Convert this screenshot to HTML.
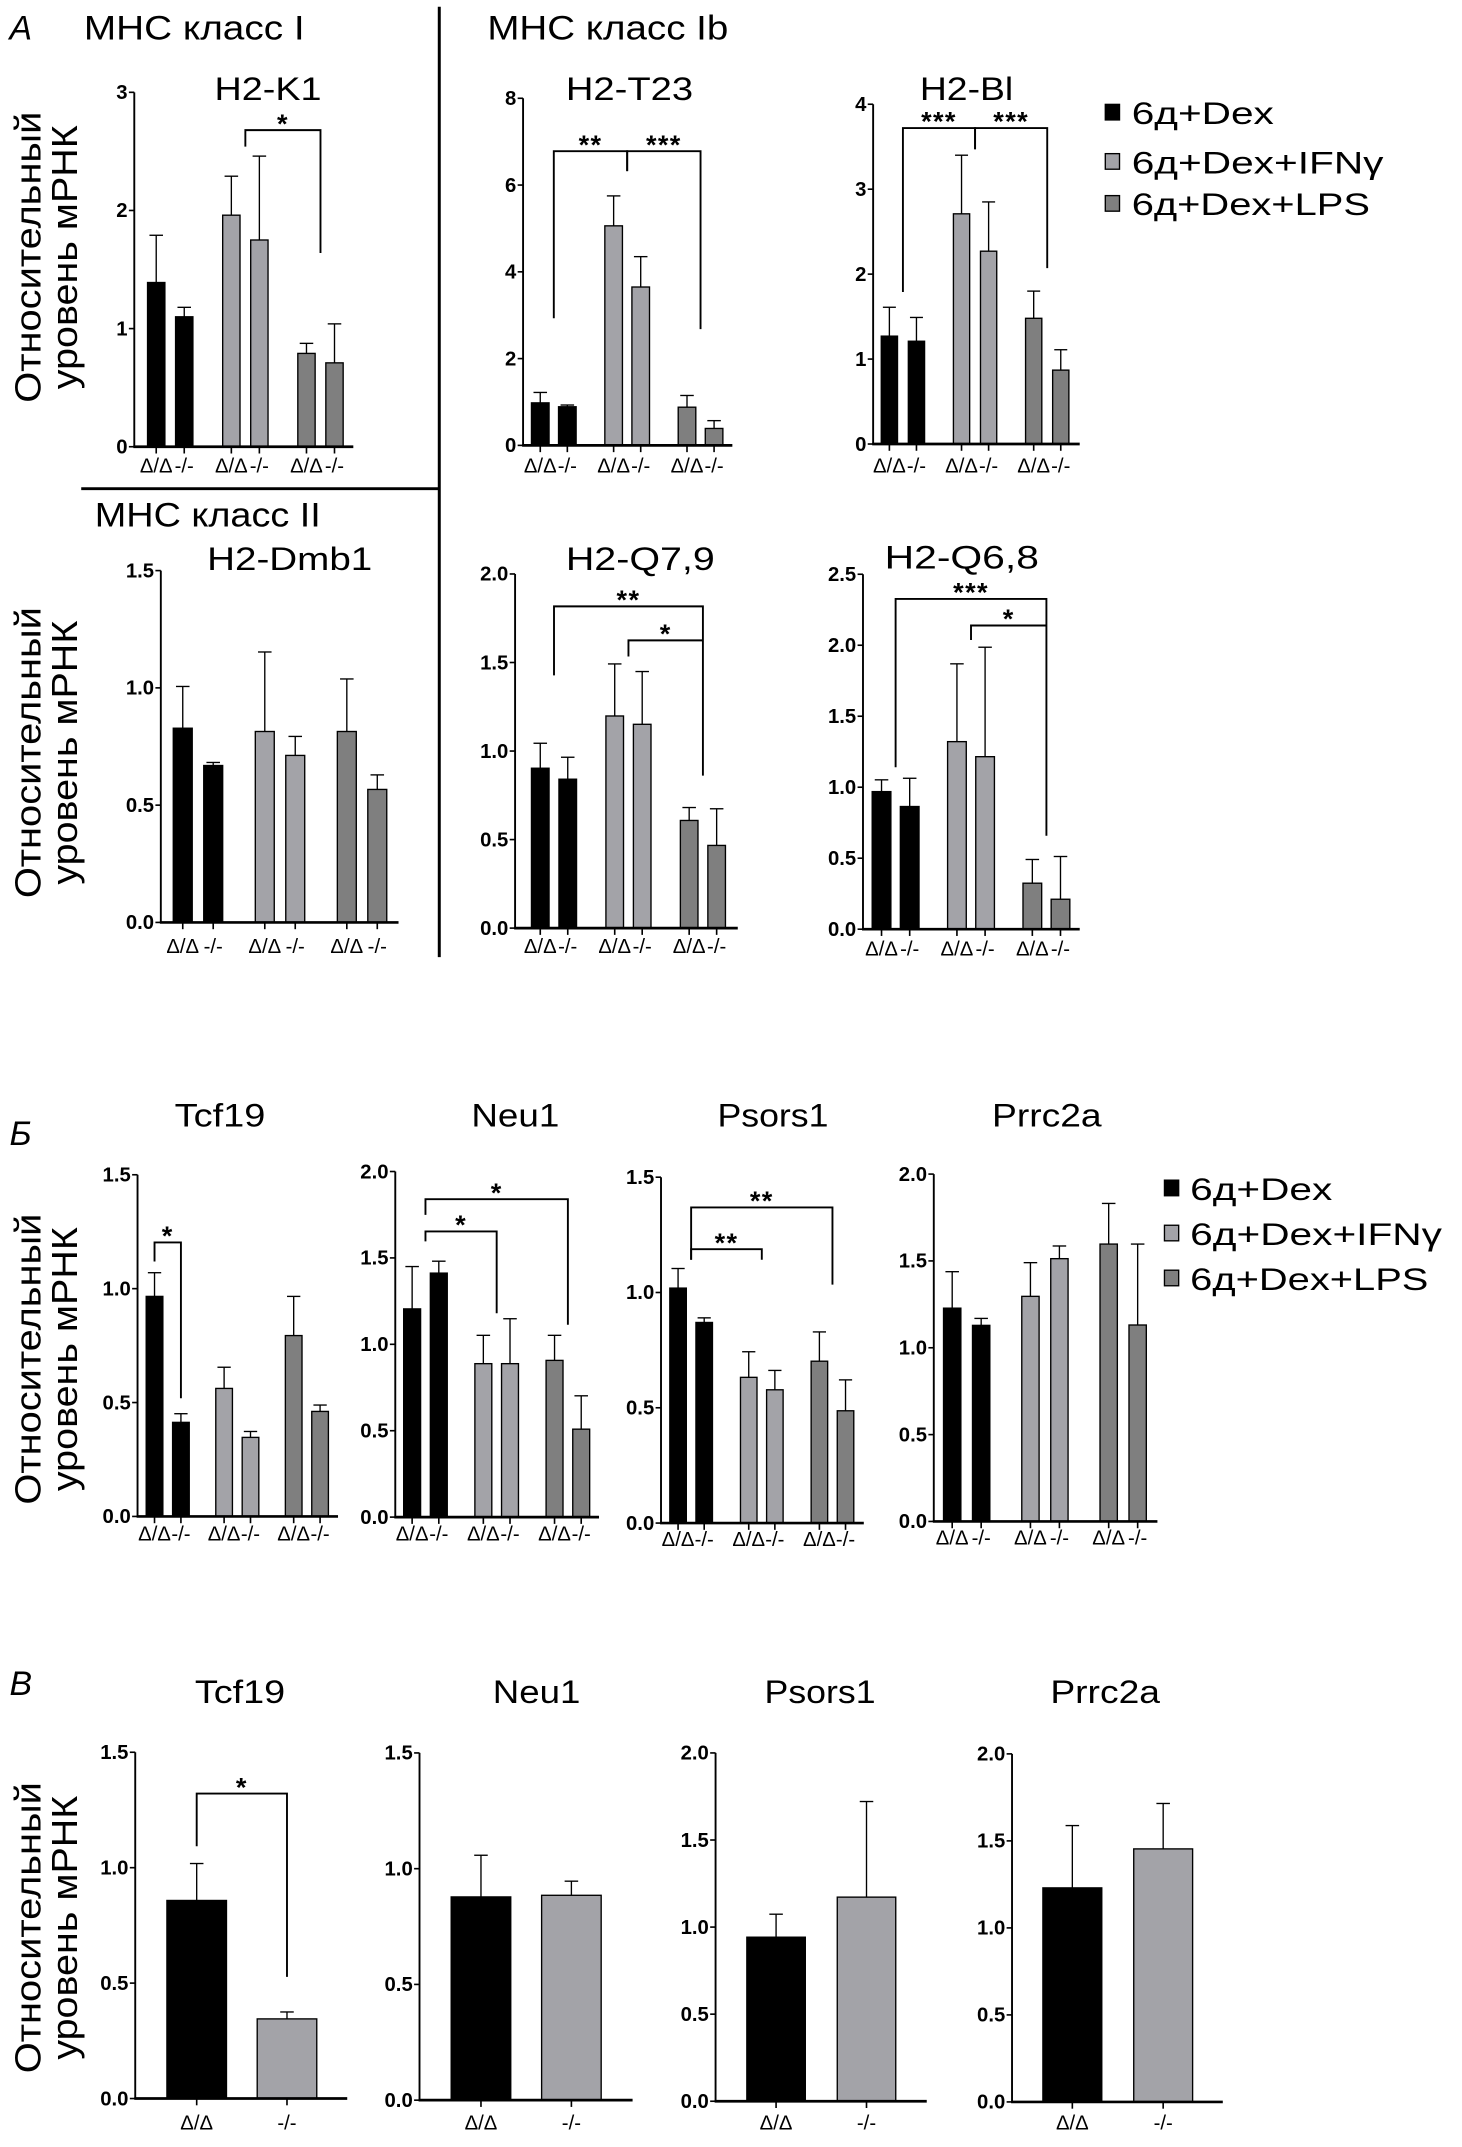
<!DOCTYPE html>
<html lang="ru"><head><meta charset="utf-8"><title>Relative mRNA levels</title>
<style>
html,body{margin:0;padding:0;background:#fff;}
svg{display:block;}
text{font-family:"Liberation Sans","DejaVu Sans",sans-serif;fill:#000;}
.tick{font-weight:bold;font-size:15px;}
.cat{font-size:15px;}
.ttl{font-size:24px;}
.sec{font-size:25px;}
.leg{font-size:23px;}
.star{font-size:20px;font-weight:bold;}
.ylab{font-size:27px;}
</style></head>
<body>
<svg id="fig" xmlns="http://www.w3.org/2000/svg" viewBox="0 0 1080 1586" width="1462" height="2147" preserveAspectRatio="none">
  <rect x="0" y="0" width="1080" height="1586" fill="#fff"/>
  <text x="7" y="29" class="sec" font-style="italic">A</text>
  <text x="62" y="29" class="sec" textLength="163" lengthAdjust="spacingAndGlyphs">MHC класс I</text>
  <text x="360" y="29" class="sec" textLength="178" lengthAdjust="spacingAndGlyphs">MHC класс Ib</text>
  <text x="70" y="389" class="sec" textLength="167" lengthAdjust="spacingAndGlyphs">MHC класс II</text>
  <line x1="324.5" y1="5" x2="324.5" y2="707" stroke="#000" stroke-width="2.2"/>
  <line x1="60" y1="361" x2="324.5" y2="361" stroke="#000" stroke-width="2.2"/>
  <text x="7" y="846" class="sec" font-style="italic">Б</text>
  <text x="7" y="1252" class="sec" font-style="italic">В</text>
  <g id="charts"></g>
</svg>
<script>
const groupCats6 = ["Δ/Δ","-/-","Δ/Δ","-/-","Δ/Δ","-/-"];
const groupCats2 = ["Δ/Δ","-/-"];
const legendLabels = ["6д+Dex","6д+Dex+IFNγ","6д+Dex+LPS"];

const k1Values = [1.39,1.10,1.96,1.75,0.79,0.71];
const k1Errors = [1.79,1.18,2.29,2.46,0.875,1.04];
const k1Ticks = [0,1,2,3];
const k1TickLabels = ["0","1","2","3"];

const t23Values = [0.98,0.89,5.06,3.65,0.88,0.39];
const t23Errors = [1.22,0.93,5.75,4.35,1.15,0.57];
const t23Ticks = [0,2,4,6,8];
const t23TickLabels = ["0","2","4","6","8"];

const blValues = [1.27,1.21,2.71,2.27,1.48,0.87];
const blErrors = [1.61,1.49,3.40,2.85,1.80,1.11];
const blTicks = [0,1,2,3,4];
const blTickLabels = ["0","1","2","3","4"];

const dmbValues = [0.828,0.669,0.814,0.712,0.814,0.567];
const dmbErrors = [1.006,0.682,1.153,0.793,1.038,0.629];
const halfTicks15 = [0,0.5,1.0,1.5];
const halfTickLabels15 = ["0.0","0.5","1.0","1.5"];
const halfTicks20 = [0,0.5,1.0,1.5,2.0];
const halfTickLabels20 = ["0.0","0.5","1.0","1.5","2.0"];
const halfTicks25 = [0,0.5,1.0,1.5,2.0,2.5];
const halfTickLabels25 = ["0.0","0.5","1.0","1.5","2.0","2.5"];

const q79Values = [0.903,0.841,1.198,1.151,0.608,0.467];
const q79Errors = [1.044,0.965,1.492,1.449,0.681,0.674];

const q68Values = [0.969,0.864,1.321,1.215,0.324,0.211];
const q68Errors = [1.052,1.063,1.869,1.986,0.491,0.512];

const tcfBValues = [0.966,0.413,0.562,0.347,0.794,0.461];
const tcfBErrors = [1.07,0.451,0.655,0.373,0.966,0.489];

const neuBValues = [1.205,1.412,0.888,0.888,0.907,0.509];
const neuBErrors = [1.45,1.481,1.052,1.148,1.052,0.702];

const psorsBValues = [1.019,0.870,0.632,0.578,0.702,0.487];
const psorsBErrors = [1.104,0.890,0.743,0.662,0.829,0.621];

const prrcBValues = [1.228,1.129,1.296,1.513,1.597,1.131];
const prrcBErrors = [1.438,1.169,1.49,1.586,1.831,1.597];

const tcfVValues = [0.858,0.345];
const tcfVErrors = [1.018,0.375];
const neuVValues = [0.878,0.885];
const neuVErrors = [1.058,0.946];
const psorsVValues = [0.942,1.172];
const psorsVErrors = [1.074,1.721];
const prrcVValues = [1.23,1.454];
const prrcVErrors = [1.588,1.715];

const k1Brackets = [{a:2.5,b:4.5,top:2.68,legA:2.54,legB:1.64,label:"*"}];
const t23Brackets = [{a:0.5,b:2.5,top:6.78,legA:2.93,legB:6.32,label:"**"},{a:2.5,b:4.5,top:6.78,legA:6.32,legB:2.68,label:"***"}];
const blBrackets = [{a:0.5,b:2.5,top:3.72,legA:1.79,legB:3.47,label:"***"},{a:2.5,b:4.5,top:3.72,legA:3.47,legB:2.07,label:"***"}];
const q79Brackets = [{a:0.5,b:4.5,top:1.817,legA:1.427,legB:0.861,label:"**"},{a:2.5,b:4.5,top:1.625,legA:1.534,legB:1.625,label:"*"}];
const q68Brackets = [{a:0.5,b:4.5,top:2.326,legA:1.141,legB:0.658,label:"***"},{a:2.5,b:4.5,top:2.139,legA:2.037,legB:2.139,label:"*"}];
const tcfBBrackets = [{a:0,b:1,top:1.203,legA:1.119,legB:0.519,label:"*"}];
const neuBBrackets = [{a:0.5,b:4.5,top:1.84,legA:1.749,legB:1.113,label:"*"},{a:0.5,b:2.5,top:1.653,legA:1.596,legB:1.18,label:"*"}];
const psorsBBrackets = [{a:0.5,b:4.5,top:1.369,legA:1.142,legB:1.034,label:"**"},{a:0.5,b:2.5,top:1.188,legA:1.142,legB:1.142,label:"**"}];
const tcfVBrackets = [{a:0,b:1,top:1.321,legA:1.093,legB:0.527,label:"*"}];

const C6 = ["#000000","#000000","#a3a3a8","#a3a3a8","#7f7f7f","#7f7f7f"];
const C2 = ["#000000","#a3a3a8"];
const charts = [
 {id:"h2-k1",title:"H2-K1",values:k1Values,errors:k1Errors,ticks:k1Ticks,tl:k1TickLabels,max:3,ax:99.2,y0:330,yT:68.2,off:9.8,g:55.5,p:20.7,gs:2,w:12.8,end:261,labY:349,tcx:198,tby:74,tw:79,br:k1Brackets,cats:groupCats6,col:C6},
 {id:"h2-t23",title:"H2-T23",values:t23Values,errors:t23Errors,ticks:t23Ticks,tl:t23TickLabels,max:8,ax:386.4,y0:329,yT:72.6,off:6.2,g:54.2,p:20,gs:2,w:13,end:541,labY:349,tcx:465,tby:74,tw:94,br:t23Brackets,cats:groupCats6,col:C6},
 {id:"h2-bl",title:"H2-Bl",values:blValues,errors:blErrors,ticks:blTicks,tl:blTickLabels,max:4,ax:645,y0:328,yT:77,off:6,g:53.3,p:20,gs:2,w:12,end:797.6,labY:349,tcx:714,tby:74,tw:69,br:blBrackets,cats:groupCats6,col:C6},
 {id:"h2-dmb1",title:"H2-Dmb1",values:dmbValues,errors:dmbErrors,ticks:halfTicks15,tl:halfTickLabels15,max:1.5,ax:118.8,y0:681.4,yT:421.5,off:9.2,g:60.6,p:22.5,gs:2,w:14,end:294.4,labY:704,tcx:214,tby:421,tw:122,br:[],cats:groupCats6,col:C6},
 {id:"h2-q79",title:"H2-Q7,9",values:q79Values,errors:q79Errors,ticks:halfTicks20,tl:halfTickLabels20,max:2,ax:380.5,y0:685.6,yT:424,off:12.1,g:55,p:20.3,gs:2,w:13,end:545,labY:704,tcx:473,tby:421,tw:110,br:q79Brackets,cats:groupCats6,col:C6},
 {id:"h2-q68",title:"H2-Q6,8",values:q68Values,errors:q68Errors,ticks:halfTicks25,tl:halfTickLabels25,max:2.5,ax:637.5,y0:686.4,yT:424.2,off:6.8,g:55.7,p:20.8,gs:2,w:13.8,end:797.6,labY:706,tcx:710.5,tby:420,tw:114,br:q68Brackets,cats:groupCats6,col:C6},
 {id:"tcf19-b",title:"Tcf19",values:tcfBValues,errors:tcfBErrors,ticks:halfTicks15,tl:halfTickLabels15,max:1.5,ax:101.6,y0:1120.2,yT:867.8,off:6.4,g:51.4,p:19.5,gs:2,w:12.3,end:249.7,labY:1138,tcx:162.5,tby:832,tw:67,br:tcfBBrackets,cats:groupCats6,col:C6},
 {id:"neu1-b",title:"Neu1",values:neuBValues,errors:neuBErrors,ticks:halfTicks20,tl:halfTickLabels20,max:2,ax:292,y0:1120.7,yT:865.4,off:6.2,g:52.6,p:19.7,gs:2,w:12.5,end:442.5,labY:1138,tcx:380.7,tby:832,tw:65,br:neuBBrackets,cats:groupCats6,col:C6},
 {id:"psors1-b",title:"Psors1",values:psorsBValues,errors:psorsBErrors,ticks:halfTicks15,tl:halfTickLabels15,max:1.5,ax:488.3,y0:1125.1,yT:869.6,off:6.5,g:52.2,p:19.3,gs:2,w:12.2,end:638.1,labY:1142,tcx:571,tby:832,tw:82,br:psorsBBrackets,cats:groupCats6,col:C6},
 {id:"prrc2a-b",title:"Prrc2a",values:prrcBValues,errors:prrcBErrors,ticks:halfTicks20,tl:halfTickLabels20,max:2,ax:689.8,y0:1123.9,yT:867.3,off:7.2,g:57.8,p:21.4,gs:2,w:12.8,end:855,labY:1141,tcx:773.3,tby:832,tw:81,br:[],cats:groupCats6,col:C6},
 {id:"tcf19-v",title:"Tcf19",values:tcfVValues,errors:tcfVErrors,ticks:halfTicks15,tl:halfTickLabels15,max:1.5,ax:99.9,y0:1550.2,yT:1294.4,off:23.4,g:66.7,p:0,gs:1,w:44,end:256.5,labY:1573,tcx:177.3,tby:1258,tw:66.7,br:tcfVBrackets,cats:groupCats2,col:C2},
 {id:"neu1-v",title:"Neu1",values:neuVValues,errors:neuVErrors,ticks:halfTicks15,tl:halfTickLabels15,max:1.5,ax:309.9,y0:1551.4,yT:1294.9,off:23.4,g:66.8,p:0,gs:1,w:44,end:467.3,labY:1573,tcx:396.4,tby:1258,tw:64.7,br:[],cats:groupCats2,col:C2},
 {id:"psors1-v",title:"Psors1",values:psorsVValues,errors:psorsVErrors,ticks:halfTicks20,tl:halfTickLabels20,max:2,ax:528.6,y0:1552.2,yT:1294.9,off:23.1,g:66.8,p:0,gs:1,w:43.2,end:684.6,labY:1573,tcx:605.8,tby:1258,tw:82,br:[],cats:groupCats2,col:C2},
 {id:"prrc2a-v",title:"Prrc2a",values:prrcVValues,errors:prrcVErrors,ticks:halfTicks20,tl:halfTickLabels20,max:2,ax:747.6,y0:1552.7,yT:1295.6,off:22.8,g:67.1,p:0,gs:1,w:43.5,end:903.3,labY:1573,tcx:816.4,tby:1258,tw:81,br:[],cats:groupCats2,col:C2}
];

const NS = "http://www.w3.org/2000/svg";
const root = document.getElementById("charts");
function mk(tag, attrs, parent){
  const e = document.createElementNS(NS, tag);
  for (const k in attrs) e.setAttribute(k, attrs[k]);
  parent.appendChild(e);
  return e;
}

charts.forEach(function(c){
  const g = mk("g", {}, root);
  
  
  const yS = function(v){ return c.y0 - (v / c.max) * (c.y0 - c.yT); };
  const barLeft = function(i){ return c.ax + c.off + Math.floor(i / c.gs) * c.g + (i % c.gs) * c.p; };
  const barCenter = function(i){ return barLeft(i) + c.w / 2; };
  const xPos = function(f){ const lo = Math.floor(f), hi = Math.ceil(f); return (barCenter(lo) + barCenter(hi)) / 2; };

  const t = mk("text", {x:c.tcx, y:c.tby, "text-anchor":"middle", "class":"ttl", textLength:c.tw, lengthAdjust:"spacingAndGlyphs"}, g);
  t.textContent = c.title;
  
  

  const ya = mk("line", {x1:c.ax, y1:yS(c.max), x2:c.ax, y2:c.y0, stroke:"#000", "stroke-width":1.4}, g);
  
  
  c.ticks.forEach(function(v, k){
    const tm = mk("line", {x1:c.ax - 4, y1:yS(v), x2:c.ax, y2:yS(v), stroke:"#000", "stroke-width":1.2}, g);
    
    
    const tl = mk("text", {x:c.ax - 5, y:yS(v) + 5, "text-anchor":"end", "class":"tick"}, g);
    tl.textContent = c.tl[k];
    
    
  });

  c.values.forEach(function(v, i){
    const x = barLeft(i), cx = barCenter(i);
    const eb = mk("line", {x1:cx, y1:yS(v), x2:cx, y2:yS(c.errors[i]), stroke:"#000", "stroke-width":1}, g);
    
    
    const capW = Math.min(5, c.w * 0.4);
    const cap = mk("line", {x1:cx - capW, y1:yS(c.errors[i]), x2:cx + capW, y2:yS(c.errors[i]), stroke:"#000", "stroke-width":1}, g);
    
    
    const b = mk("rect", {x:x, y:yS(v), width:c.w, height:c.y0 - yS(v), fill:c.col[i], stroke:"#000", "stroke-width":1}, g);
    
    
    const xt = mk("line", {x1:cx, y1:c.y0, x2:cx, y2:c.y0 + 5, stroke:"#000", "stroke-width":1.2}, g);
    
    
    const cl = mk("text", {x:cx, y:c.labY, "text-anchor":"middle", "class":"cat"}, g);
    cl.textContent = c.cats[i];
    
    
  });

  const xa = mk("line", {x1:c.ax - 0.7, y1:c.y0, x2:c.end, y2:c.y0, stroke:"#000", "stroke-width":2}, g);
  
  

  c.br.forEach(function(s){
    const xa1 = xPos(s.a), xb1 = xPos(s.b), ty = yS(s.top);
    const pth = mk("path", {d:"M" + xa1 + " " + yS(s.legA) + " L" + xa1 + " " + ty + " L" + xb1 + " " + ty + " L" + xb1 + " " + yS(s.legB), fill:"none", stroke:"#000", "stroke-width":1.4}, g);
    
    
    const st = mk("text", {x:(xa1 + xb1) / 2, y:ty + 2, "text-anchor":"middle", "class":"star", "letter-spacing":"1"}, g);
    st.textContent = s.label;
    
    
  });
});

const yTitles = [190, 556, 1004, 1424];
yTitles.forEach(function(cy){
  const g = mk("g", {}, root);
  
  
  const a = mk("text", {x:0, y:0, "text-anchor":"middle", "class":"ylab", textLength:215, lengthAdjust:"spacingAndGlyphs", transform:"translate(30," + cy + ") rotate(-90)"}, g);
  a.textContent = "Относительный";
  
  
  const b = mk("text", {x:0, y:0, "text-anchor":"middle", "class":"ylab", textLength:195, lengthAdjust:"spacingAndGlyphs", transform:"translate(57," + cy + ") rotate(-90)"}, g);
  b.textContent = "уровень мРНК";
  
  
});

const legendFills = ["#000000","#a3a3a8","#7f7f7f"];
const legends = [{sx:816.5, tx:836, ys:[91.6,128,159], widths:[105,186,176]}, {sx:860.2, tx:879.2, ys:[886.3,919.6,952.8], widths:[105,186,176]}];
legends.forEach(function(L){
  const g = mk("g", {}, root);
  
  
  legendLabels.forEach(function(lbl, k){
    const sw = mk("rect", {x:L.sx, y:L.ys[k] - 14.5, width:10.5, height:11.5, fill:legendFills[k], stroke:"#000", "stroke-width":1}, g);
    
    
    const tx = mk("text", {x:L.tx, y:L.ys[k], "class":"leg", textLength:L.widths[k], lengthAdjust:"spacingAndGlyphs"}, g);
    tx.textContent = lbl;
    
    
  });
});
</script>
</body></html>
